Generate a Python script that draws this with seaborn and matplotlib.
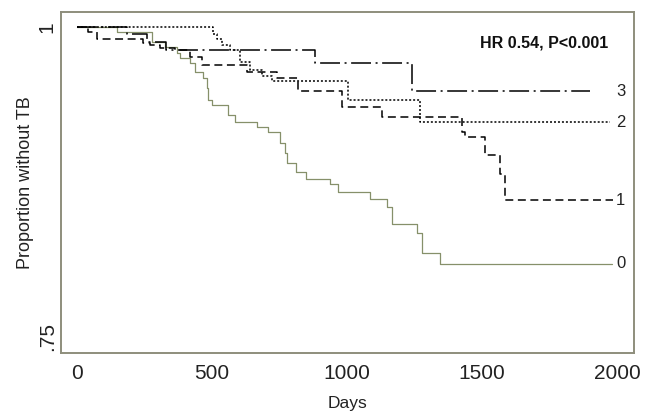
import numpy as np
import pandas as pd
import matplotlib
matplotlib.use("Agg")
import matplotlib.pyplot as plt
import seaborn as sns

# ---- data (Kaplan-Meier style step curves) ----
days_0 = [0, 150, 278, 326, 370, 381, 419, 437, 467, 481, 485, 500, 559, 585, 667, 707,
          752, 770, 778, 811, 848, 937, 967, 1085, 1148, 1167, 1259, 1278, 1344, 1981]
surv_0 = [1.0, 0.996, 0.988, 0.984, 0.979, 0.975, 0.971, 0.964, 0.959, 0.951, 0.941, 0.937,
          0.929, 0.923, 0.919, 0.915, 0.906, 0.898, 0.890, 0.883, 0.877, 0.873, 0.867, 0.861,
          0.855, 0.841, 0.834, 0.818, 0.809, 0.809]

days_1 = [0, 41, 74, 244, 270, 307, 363, 419, 463, 630, 741, 819, 981, 1130, 1426,
          1437, 1511, 1567, 1585, 1985]
surv_1 = [1.0, 0.996, 0.990, 0.987, 0.985, 0.983, 0.981, 0.976, 0.969, 0.964, 0.959,
          0.948, 0.935, 0.927, 0.915, 0.911, 0.897, 0.881, 0.860, 0.860]

days_2 = [0, 504, 519, 537, 567, 604, 641, 685, 722, 1004, 1270, 1974]
surv_2 = [1.0, 0.994, 0.990, 0.985, 0.981, 0.972, 0.965, 0.960, 0.956, 0.941, 0.923, 0.923]

days_3 = [0, 185, 260, 330, 881, 1241, 1900]
surv_3 = [1.0, 0.994, 0.988, 0.981, 0.971, 0.948, 0.948]

groups = ["0", "1", "2", "3"]
x_ticks = [0, 500, 1000, 1500, 2000]
x_ticklabels = ["0", "500", "1000", "1500", "2000"]
y_ticks = [0.75, 1.0]
y_ticklabels = [".75", "1"]
annotation_text = "HR 0.54, P<0.001"
x_label = "Days"
y_label = "Proportion without TB"

series = {"0": (days_0, surv_0), "1": (days_1, surv_1),
          "2": (days_2, surv_2), "3": (days_3, surv_3)}
df = pd.concat([pd.DataFrame({"days": d, "surv": s, "group": g})
                for g, (d, s) in series.items()], ignore_index=True)

# ---- styling ----
sns.set_style("white")
plt.rcParams["font.family"] = ["Liberation Sans", "DejaVu Sans"]

fig = plt.figure(figsize=(6.45, 4.15), dpi=100)
ax = fig.add_axes([61 / 645, 1 - 353 / 415, (634 - 61) / 645, (353 - 12) / 415])

palette = {"0": "#86906a", "1": "black", "2": "black", "3": "black"}
dashes = {"0": "", "1": (5.2, 3.0), "2": (1.3, 1.3), "3": (13, 3, 1.3, 3)}

sns.lineplot(data=df, x="days", y="surv", hue="group", style="group",
             palette=palette, dashes=dashes, drawstyle="steps-post",
             estimator=None, legend=False, ax=ax, linewidth=1.1)
for line, g in zip(ax.get_lines(), groups):
    if g == "0":
        line.set_linewidth(0.9)

ax.set_xlim(-59, 2063)
ax.set_ylim(0.737, 1.012)
ax.set_xticks(x_ticks)
ax.set_xticklabels(x_ticklabels)
ax.set_yticks(y_ticks)
ax.set_yticklabels(y_ticklabels, rotation=90)
for lab in ax.get_yticklabels():
    lab.set_va("center")
ax.tick_params(axis="x", length=0, pad=8, labelsize=15, colors="#222222")
ax.tick_params(axis="y", length=0, pad=3, labelsize=15, colors="#222222")
ax.set_xlabel(x_label, fontsize=12.5, labelpad=9, color="#222222")
ax.set_ylabel(y_label, fontsize=13, labelpad=3, color="#222222")

for side in ["left", "bottom", "right", "top"]:
    ax.spines[side].set_visible(True)
    ax.spines[side].set_color("#8e8e7c")
    ax.spines[side].set_linewidth(1.4)

# end-of-curve labels
for g, (d, s) in series.items():
    ax.text(1997, s[-1], g, ha="left", va="center", fontsize=12, color="#222222")

ax.text(1968, 0.987, annotation_text, ha="right", va="center",
        fontsize=11.5, fontweight="bold", color="#111111")

fig.savefig("out.png", dpi=100)
